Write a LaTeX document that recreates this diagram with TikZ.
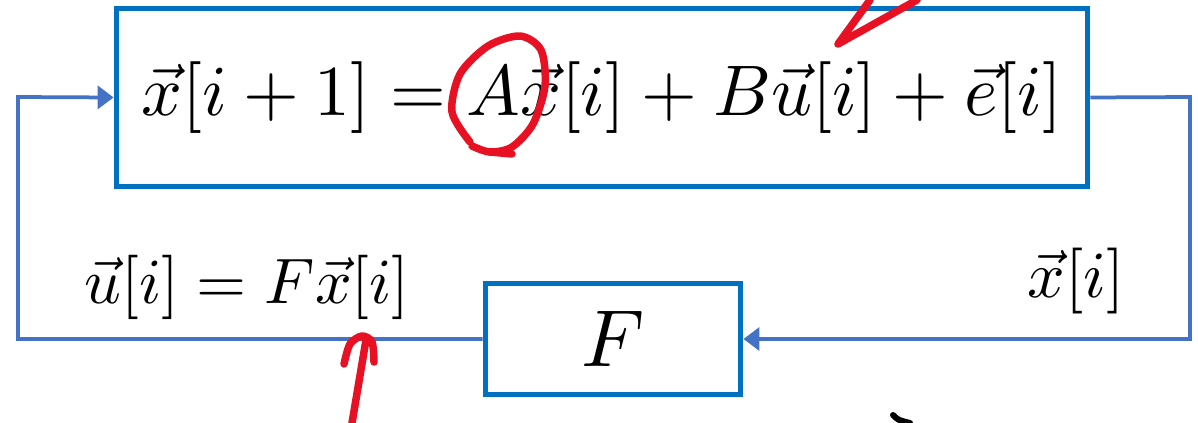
\documentclass[tikz,border=0pt]{standalone}
\usepackage{amsmath, amssymb}
\usepackage{graphicx}
\usepackage{tikz}
\usetikzlibrary{shapes, arrows.meta, positioning, calc}
\definecolor{boxblue}{RGB}{0, 112, 192}
\definecolor{loopblue}{RGB}{68, 114, 196}
\definecolor{penred}{RGB}{232, 17, 35}

\tikzset{
  sysbox/.style={draw=boxblue, line width=0.1cm, inner sep=0pt},
  loopline/.style={draw=loopblue, line width=0.075cm, -{Triangle[length=0.32cm, width=0.46cm]}},
  ink/.style={draw=penred, line width=0.15cm, line cap=round, line join=round}
}

\begin{document}
\begin{tikzpicture}[x=0.02cm, y=-0.02cm]
  \useasboundingbox (0,0) rectangle (1198,423);

  % plant and feedback gain
  \node[sysbox, minimum width=19.44cm, minimum height=3.58cm] (plant) at (602,97.5)
    {\scalebox{4.08}{$\vec{x}[i+1] = A\vec{x}[i] + B\vec{u}[i] + \vec{e}[i]$}};
  \node[sysbox, minimum width=5.12cm, minimum height=2.24cm] (gain) at (613,339) {\scalebox{4.6}{$F$}};

  % loop corners
  \coordinate (cornerR) at (1190,97);
  \coordinate (cornerL) at (18,97);

  \draw[loopline] (plant.east) -- (cornerR) |- (gain.east);
  \draw[loopline] (gain.west) -| (cornerL) -- (plant.west);

  % signal labels
  \node (ulabel) at (247,287) {\scalebox{3.66}{$\vec{u}[i] = F\vec{x}[i]$}};
  \node (xlabel) at (1076,281) {\scalebox{3.75}{$\vec{x}[i]$}};

  % hand-drawn marks
  \draw[ink] plot[smooth] coordinates {(470,142) (452,112) (460,74) (488,46) (520,36) (541,50) (545,86) (533,124) (512,147) (490,152) (472,146)};
  \draw[ink] (490,152) -- (512,154);
  \draw[ink] (870,0) -- (838,44) -- (917,0);
  \draw[ink] (352,423) -- (366,340);
  \draw[ink] plot[smooth] coordinates {(344,364) (350,344) (362,336) (372,342) (374,362)};
  \draw[line width=0.12cm, line cap=round] (893,415) .. controls (898,420) .. (910,423);
\end{tikzpicture}
\end{document}
